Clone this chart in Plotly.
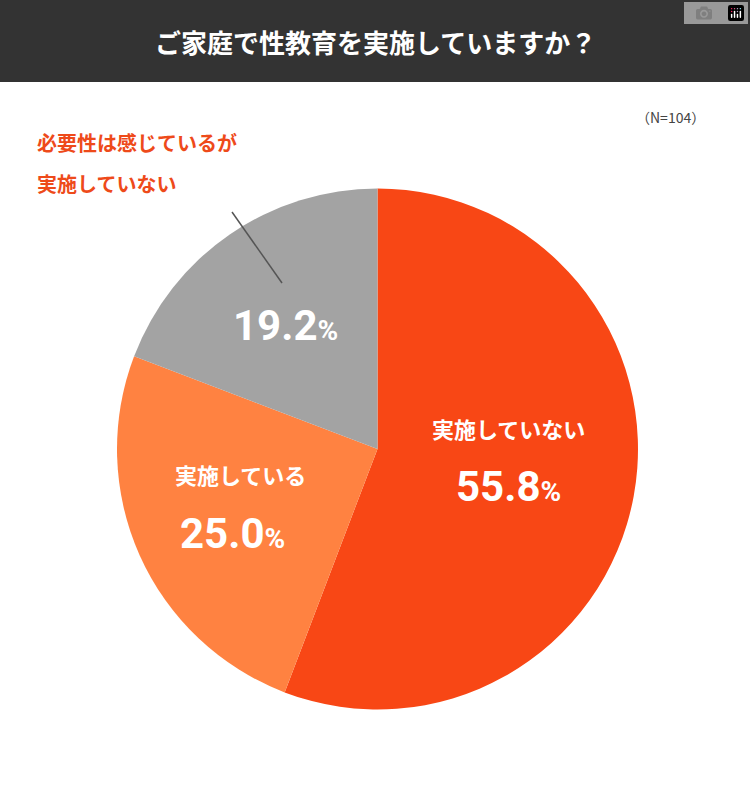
import plotly.graph_objects as go

categories = ["実施していない", "実施している", "必要性は感じているが実施していない"]
values = [55.8, 25.0, 19.2]
colors = ["#F84715", "#FF8241", "#A3A3A3"]

W, H = 750, 790
def px(x): return x / W
def py(y): return 1 - y / H

fig = go.Figure(go.Pie(
    labels=categories, values=values, sort=False, direction="clockwise", rotation=0,
    marker=dict(colors=colors, line=dict(width=0)), textinfo="none", hoverinfo="label+percent",
    domain=dict(x=[px(117), px(638)], y=[py(710), py(188)]), showlegend=False,
))

F = "Noto Sans CJK JP"
def pct(v, big, small):
    return f"<b><span style='font-size:{big}px'>{v:.1f}</span><span style='font-size:{small}px'>%</span></b>"

anns = [
    dict(x=px(508), y=py(428), text="<b>実施していない</b>", font=dict(size=22, color="white", family=F)),
    dict(x=px(508), y=py(487), text=pct(values[0], 42, 28), font=dict(color="white", family="Roboto")),
    dict(x=px(240), y=py(474), text="<b>実施している</b>", font=dict(size=22, color="white", family=F)),
    dict(x=px(232), y=py(533), text=pct(values[1], 42, 28), font=dict(color="white", family="Roboto")),
    dict(x=px(285), y=py(325), text=pct(values[2], 42, 28), font=dict(color="white", family="Roboto")),
    dict(x=px(35), y=py(143), xanchor="left", text="<b>必要性は感じているが</b>",
         font=dict(size=20, color="#EE4A1A", family=F)),
    dict(x=px(35), y=py(183), xanchor="left", text="<b>実施していない</b>",
         font=dict(size=20, color="#EE4A1A", family=F)),
    dict(x=px(670), y=py(117), text="（N=104）", font=dict(size=14, color="#444", family=F)),
    dict(x=0.5, y=py(42), text="<b>ご家庭で性教育を実施していますか？</b>", font=dict(size=26, color="white", family=F)),
]
for a in anns:
    a.update(xref="paper", yref="paper", showarrow=False)
    a.setdefault("xanchor", "center")
    a.setdefault("yanchor", "middle")

fig.update_layout(
    width=W, height=H, margin=dict(l=0, r=0, t=0, b=0),
    paper_bgcolor="white", plot_bgcolor="white", annotations=anns,
    shapes=[
        dict(type="rect", xref="paper", yref="paper", x0=0, x1=1, y0=py(82), y1=1,
             fillcolor="#333333", line=dict(width=0), layer="below"),
        dict(type="line", xref="paper", yref="paper", x0=px(232), y0=py(212), x1=px(282), y1=py(283),
             line=dict(color="#555", width=1.5)),
    ],
)
fig.write_html("out.html")
with open("out.html", encoding="utf-8") as f:
    html = f.read()
html = html.replace("<body>", "<body style=\"margin:0;padding:0\">", 1)
with open("out.html", "w", encoding="utf-8") as f:
    f.write(html)
